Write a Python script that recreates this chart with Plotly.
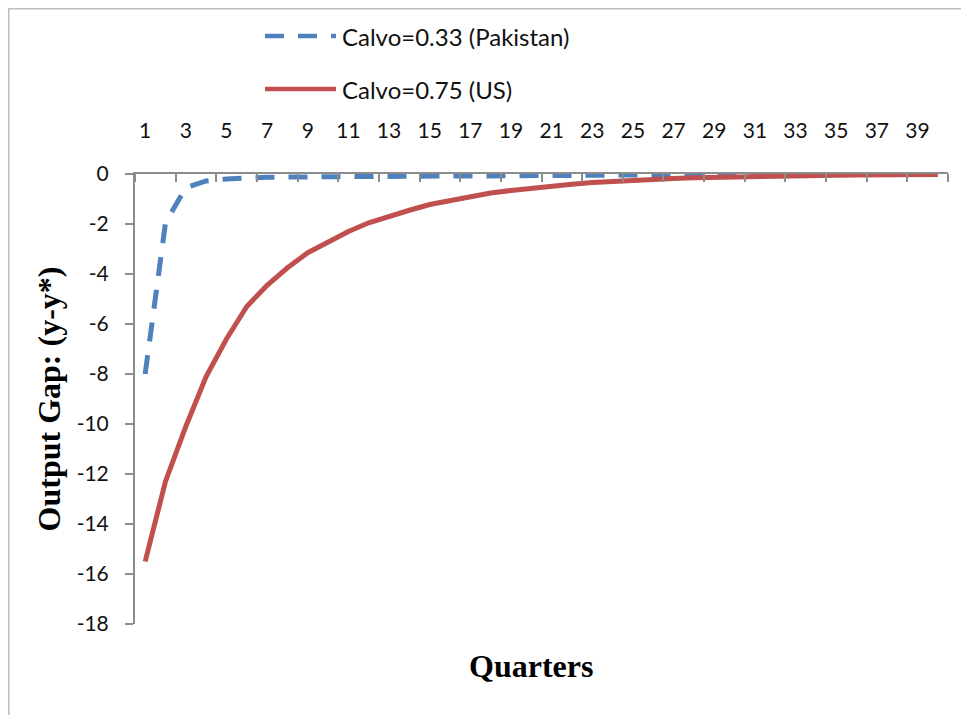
import plotly.graph_objects as go

# ---- data ----
quarters = list(range(1, 41))
x_tick_labels = [str(q) for q in range(1, 40, 2)]
y_tick_values = list(range(-18, 1, 2))
y_tick_labels = [str(v) for v in y_tick_values]
pakistan = [-8.0, -1.95, -0.55, -0.28, -0.2, -0.15, -0.13, -0.12, -0.11, -0.1,
            -0.1, -0.1, -0.09, -0.09, -0.09, -0.08, -0.08, -0.07, -0.07, -0.06,
            -0.06, -0.05, -0.05, -0.05, -0.04, -0.04, -0.03, -0.03, -0.02, -0.02,
            -0.01, -0.01, -0.01, -0.01, 0.0, 0.0, 0.0, 0.0, 0.0, 0.0]
us = [-15.5, -12.3, -10.1, -8.1, -6.6, -5.3, -4.45, -3.75, -3.15, -2.7,
      -2.3, -1.95, -1.68, -1.45, -1.22, -1.05, -0.9, -0.76, -0.66, -0.56,
      -0.48, -0.41, -0.34, -0.29, -0.25, -0.21, -0.18, -0.15, -0.13, -0.11,
      -0.09, -0.08, -0.07, -0.06, -0.05, -0.04, -0.035, -0.03, -0.025, -0.02]
series_names = ["Calvo=0.33 (Pakistan)", "Calvo=0.75 (US)"]
y_title = "Output Gap: (y-y*)"
x_title = "Quarters"

BLUE = "#4F81BD"
RED = "#C0504D"
AXIS = "#8C8C8C"
DASH = "19px,14px"
SANS = "Lato, Carlito, Calibri, sans-serif"
SERIF = "Liberation Serif, Times New Roman, serif"

OFF = 8  # page body margin
W, H = 969 - OFF, 715 - OFF
L, R, T, B = 127, 21, 166, 91
pw, ph = W - L - R, H - T - B


def px(x):  # reference-page x pixel -> paper
    return (x - OFF - L) / pw


def py(y):  # reference-page y pixel -> paper
    return (H + OFF - B - y) / ph


fig = go.Figure()
fig.add_trace(go.Scatter(x=quarters, y=pakistan, mode="lines", name=series_names[0],
                         line=dict(color=BLUE, width=5, dash=DASH)))
fig.add_trace(go.Scatter(x=quarters, y=us, mode="lines", name=series_names[1],
                         line=dict(color=RED, width=5)))

font_ticks = dict(family=SANS, size=21, color="#111")

fig.update_layout(
    width=W, height=H,
    margin=dict(l=L, r=R, t=T, b=B),
    paper_bgcolor="white", plot_bgcolor="white",
    showlegend=False,
    xaxis=dict(
        range=[0.5, 40.5], side="top", showgrid=False, zeroline=False,
        showline=True, linecolor=AXIS, linewidth=2,
        tickmode="array", tickvals=list(range(1, 40, 2)), ticktext=x_tick_labels,
        ticks="", tickfont=font_ticks, ticklabelstandoff=26,
        minor=dict(tickmode="array", tickvals=[0.5 + 2 * i for i in range(21)],
                   ticks="inside", ticklen=8, tickwidth=2, tickcolor=AXIS, showgrid=False),
    ),
    yaxis=dict(
        range=[-18, 0], showgrid=False, zeroline=False,
        tickmode="array", tickvals=y_tick_values, ticktext=y_tick_labels,
        showline=True, linecolor=AXIS, linewidth=2,
        ticks="outside", ticklen=8, tickwidth=2, tickcolor=AXIS,
        tickfont=font_ticks, ticklabelstandoff=12,
        title=dict(text=y_title, standoff=6,
                   font=dict(family=SERIF, size=32, color="black", weight="bold")),
    ),
)

# x-axis title at the bottom
fig.add_annotation(text=f"<b>{x_title}</b>", xref="paper", yref="paper",
                   x=px(531), y=py(666), showarrow=False, xanchor="center", yanchor="middle",
                   font=dict(family=SERIF, size=32, color="black"))

# legend (drawn manually to match the long line samples)
legend_rows = [(36, BLUE, DASH), (89, RED, "solid")]
for (yy, col, dsh), name in zip(legend_rows, series_names):
    fig.add_shape(type="line", xref="paper", yref="paper",
                  x0=px(265), x1=px(336), y0=py(yy), y1=py(yy),
                  line=dict(color=col, width=4.5, dash=dsh))
    fig.add_annotation(text=name, xref="paper", yref="paper", x=px(340), y=py(yy + 1),
                       showarrow=False, xanchor="left", yanchor="middle",
                       font=dict(family=SANS, size=24, color="#111"))

# outer chart border (top and left edges visible)
fig.add_shape(type="rect", xref="paper", yref="paper",
              x0=px(OFF + 0.5), x1=px(969 + 20), y0=py(715 + 20), y1=py(OFF + 0.5),
              line=dict(color="#BDBDBD", width=2), fillcolor="rgba(0,0,0,0)", layer="below")

fig.write_html("out.html")
